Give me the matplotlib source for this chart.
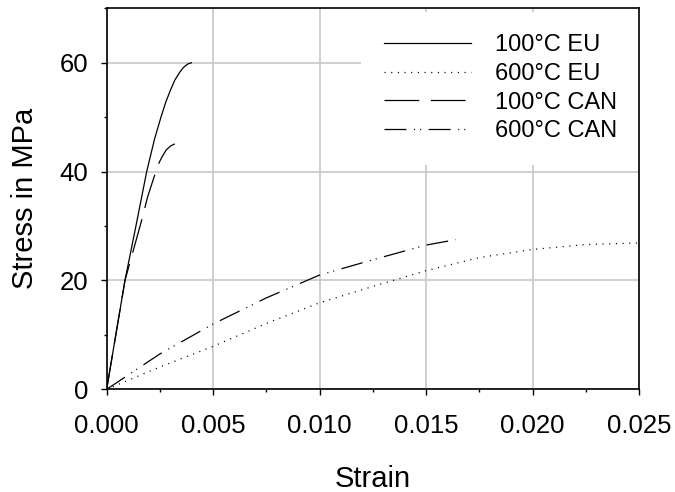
import matplotlib
matplotlib.use('Agg')
import matplotlib.pyplot as plt
from matplotlib.ticker import MultipleLocator, FormatStrFormatter

plt.rcParams['font.family'] = ['Liberation Sans', 'DejaVu Sans']
plt.rcParams['lines.scale_dashes'] = False

# values
eu100_strain = [0, 0.00086, 0.0014, 0.00188, 0.00225, 0.00255, 0.00278, 0.0030, 0.0032,
                0.00344, 0.0036, 0.0038, 0.00398]
eu100_stress = [0, 20, 30.5, 40, 46, 50, 52.8, 55, 56.8, 58.3, 59.1, 59.75, 60]

eu600_strain = [0, 0.0025, 0.005, 0.0075, 0.010, 0.0125, 0.015, 0.0175, 0.020, 0.0225, 0.025]
eu600_stress = [0, 4.1, 7.9, 12.1, 15.9, 18.9, 21.8, 24.2, 25.7, 26.6, 26.9]

can100_strain = [0, 0.00086, 0.00164, 0.00192, 0.0022, 0.00247, 0.0026, 0.0028, 0.0030, 0.0032]
can100_stress = [0, 20, 31, 35.3, 38.7, 41.7, 42.7, 44.0, 44.7, 45.1]

can600_strain = [0, 0.0025, 0.005, 0.0075, 0.010, 0.0125, 0.015, 0.0164]
can600_stress = [0, 6.5, 12.0, 16.8, 21.0, 23.8, 26.5, 27.5]

labels = ['100°C EU', '600°C EU', '100°C CAN', '600°C CAN']

fig = plt.figure(figsize=(6.75, 4.92), dpi=100)
ax = fig.add_axes([0.158, 0.2087, 0.7887, 0.7744])

ax.plot(eu100_strain, eu100_stress, color='black', lw=0.9, label=labels[0])
ax.plot(eu600_strain, eu600_stress, color='black', lw=0.9, dashes=(0.8, 4.0), label=labels[1])
ax.plot(can100_strain, can100_stress, color='black', lw=0.9, dashes=(25, 8.4), label=labels[2])
ax.plot(can600_strain, can600_stress, color='black', lw=0.9,
        dashes=(15.8, 5.4, 0.8, 3.6, 0.8, 5.4), label=labels[3])

ax.set_xlim(0, 0.025)
ax.set_ylim(0, 70)
ax.xaxis.set_major_locator(MultipleLocator(0.005))
ax.xaxis.set_minor_locator(MultipleLocator(0.0025))
ax.xaxis.set_major_formatter(FormatStrFormatter('%.3f'))
ax.yaxis.set_major_locator(MultipleLocator(20))
ax.yaxis.set_minor_locator(MultipleLocator(10))

ax.grid(True, which='major', color='#c8c8c8', lw=1.2)
ax.set_axisbelow(True)
for s in ax.spines.values():
    s.set_linewidth(1.2)
    s.set_zorder(6)

ax.tick_params(which='major', direction='out', length=4, width=1.0, labelsize=18.5)
ax.tick_params(which='minor', direction='out', length=2.2, width=1.0)
ax.tick_params(axis='x', pad=14)
ax.tick_params(axis='y', pad=9.5)

ax.set_xlabel('Strain', fontsize=21, labelpad=19)
ax.set_ylabel('Stress in MPa', fontsize=21, labelpad=14.5)

leg = ax.legend(loc='upper right', bbox_to_anchor=(1.005, 0.997), fontsize=17,
                frameon=True, borderaxespad=0.1, handlelength=3.7, handletextpad=1.0,
                labelspacing=0.285, borderpad=0.95, fancybox=False)
leg.get_frame().set_facecolor('white')
leg.get_frame().set_edgecolor('none')
leg.get_frame().set_alpha(1)

fig.savefig('out.png', dpi=100)
